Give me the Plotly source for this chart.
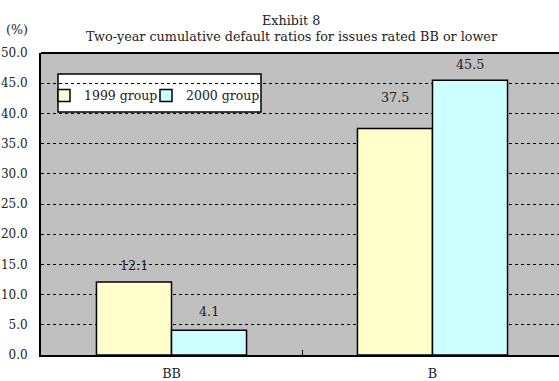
import plotly.graph_objects as go

categories = ["BB", "B"]
group_1999 = [12.1, 37.5]
group_2000 = [4.1, 45.5]
series_names = ["1999 group", "2000 group"]
y_ticks = [0, 5, 10, 15, 20, 25, 30, 35, 40, 45, 50]

FONT = "DejaVu Serif"
FS = 12.75
W, H = 559, 381
L, R, T, B = 41, 0, 53, 26
pw, ph = W - L - R, H - T - B
CAT_PX = 261.0
BARGAP = 0.425
bar_px = CAT_PX * (1 - BARGAP) / 2

# extra vertical lift of each data label (px), per series per category
label_lift = [[7, 22], [9, 6]]


def px_x(x):
    return (x - L) / pw


def px_y(y):
    return (H - B - y) / ph


fig = go.Figure()
colors = ["#ffffcc", "#ccffff"]
for name, vals, col in zip(series_names, [group_1999, group_2000], colors):
    fig.add_trace(go.Bar(
        x=categories, y=vals, name=name,
        marker=dict(color=col, line=dict(color="black", width=1.5)),
    ))

annotations = []
for si, vals in enumerate([group_1999, group_2000]):
    for ci, (cat, v) in enumerate(zip(categories, vals)):
        annotations.append(dict(
            x=cat, y=v, xref="x", yref="y", text=f"{v:.1f}", showarrow=False,
            xanchor="center", yanchor="bottom",
            xshift=(si - 0.5) * bar_px, yshift=label_lift[si][ci],
            font=dict(family=FONT, size=FS, color="#222"),
        ))

annotations += [
    dict(text="Exhibit 8", xref="paper", yref="paper", x=px_x(291), y=px_y(20),
         xanchor="center", yanchor="middle", showarrow=False,
         font=dict(family=FONT, size=FS, color="#222")),
    dict(text="Two-year cumulative default ratios for issues rated BB or lower",
         xref="paper", yref="paper", x=px_x(292), y=px_y(36),
         xanchor="center", yanchor="middle", showarrow=False,
         font=dict(family=FONT, size=FS, color="#222")),
    dict(text="(%)", xref="paper", yref="paper", x=px_x(17), y=px_y(30),
         xanchor="center", yanchor="middle", showarrow=False,
         font=dict(family=FONT, size=FS, color="#222")),
]

fig.update_layout(
    width=W, height=H,
    margin=dict(l=L, r=R, t=T, b=B, pad=0, autoexpand=False),
    paper_bgcolor="white", plot_bgcolor="#c0c0c0",
    font=dict(family=FONT, size=FS, color="#222"),
    barmode="group", bargap=BARGAP, bargroupgap=0,
    showlegend=True,
    legend=dict(
        orientation="h", x=px_x(44), y=px_y(77), xanchor="left", yanchor="top",
        bgcolor="rgba(0,0,0,0)", borderwidth=0,
        font=dict(family=FONT, size=12.5, color="#222"),
        entrywidth=57, itemwidth=30,
        # invisible spacer title so the last entry's text is not clipped
        title=dict(text="M" * 90, side="top",
                   font=dict(family=FONT, size=3, color="rgba(0,0,0,0)")),
    ),
    xaxis=dict(
        range=[-0.5, -0.5 + pw / CAT_PX], showgrid=False, automargin=False,
        showline=True, linecolor="black", linewidth=2,
        ticks="inside", tickson="boundaries", ticklen=5, tickcolor="black", tickwidth=1,
        ticklabelstandoff=6, tickfont=dict(family=FONT, size=FS),
    ),
    yaxis=dict(
        range=[0, 50], tickvals=y_ticks, tickformat=".1f", automargin=False,
        showgrid=True, gridcolor="black", griddash="dot", gridwidth=1,
        zeroline=False, showline=True, linecolor="black", linewidth=2,
        ticks="", ticklabelstandoff=9, tickfont=dict(family=FONT, size=12),
    ),
    shapes=[
        dict(type="line", xref="paper", yref="paper", x0=0, x1=1, y0=1, y1=1,
             line=dict(color="black", width=2)),
        dict(type="rect", xref="paper", yref="paper",
             x0=px_x(58), x1=px_x(261), y0=px_y(112), y1=px_y(74),
             fillcolor="white", line=dict(color="black", width=1.5), layer="between"),
    ],
    annotations=annotations,
)

fig.write_html("out.html")
